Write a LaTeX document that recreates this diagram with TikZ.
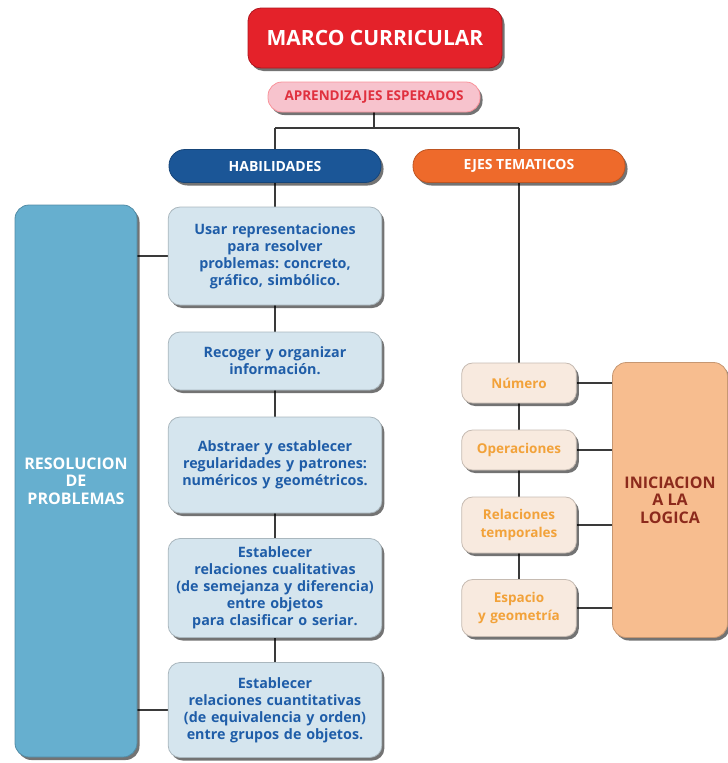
\documentclass[tikz,border=0pt]{standalone}
\usepackage{fontspec}
\setmainfont{Open Sans}
\frenchspacing
\usetikzlibrary{shadows,backgrounds}
\definecolor{marcored}{HTML}{E4222A}
\definecolor{marcoedge}{HTML}{B0141C}
\definecolor{pinkfill}{HTML}{F7C3CD}
\definecolor{pinktext}{HTML}{E0303E}
\definecolor{habblue}{HTML}{1B5697}
\definecolor{lightbluefill}{HTML}{D5E5EE}
\definecolor{bluetext}{HTML}{1F5DA8}
\definecolor{resblue}{HTML}{66AFCF}
\definecolor{ejesorange}{HTML}{EE6A2B}
\definecolor{creamfill}{HTML}{F8EADF}
\definecolor{orangetext}{HTML}{F2A23A}
\definecolor{inifill}{HTML}{F7BD8F}
\definecolor{initext}{HTML}{8C2A1C}
\definecolor{linegray}{HTML}{3A3A3A}
\tikzset{
  boxbase/.style={rectangle, draw, line width=0.8pt, align=center, font=\bfseries,
    drop shadow={shadow xshift=2.5pt, shadow yshift=-3pt, opacity=0.55, fill=black}},
  marcobox/.style={boxbase, fill=marcored, draw=marcoedge, text=white, rounded corners=13pt,
    font=\bfseries\fontsize{21}{24}\selectfont},
  aprenbox/.style={boxbase, fill=pinkfill, draw=pinkfill!75!red, text=pinktext, rounded corners=14pt,
    font=\bfseries\fontsize{13.5}{15}\selectfont},
  headbox/.style={boxbase, text=white, rounded corners=16pt,
    font=\bfseries\fontsize{14}{16}\selectfont},
  skillbox/.style={boxbase, fill=lightbluefill, draw=lightbluefill!80!black, text=bluetext,
    rounded corners=12pt, minimum width=209pt, text width=207pt,
    font=\bfseries\fontsize{14.3}{17}\selectfont},
  themebox/.style={boxbase, fill=creamfill, draw=creamfill!80!black, text=orangetext,
    rounded corners=11pt, minimum width=110pt, text width=108pt,
    font=\bfseries\fontsize{13.5}{18}\selectfont},
  bigbox/.style={boxbase, rounded corners=14pt},
  conn/.style={draw=linegray, line width=1.6pt}
}
\begin{document}
\begin{tikzpicture}[x=1pt,y=-1pt]
\useasboundingbox (0,0) rectangle (728,763);
% top
\node[marcobox, minimum width=254pt, minimum height=60pt] (marco) at (375,38) {MARCO CURRICULAR};
\node[aprenbox, minimum width=212pt, minimum height=30pt] (apren) at (374,97) {APRENDIZAJES ESPERADOS};
\node[headbox, fill=habblue, draw=habblue!80!black, minimum width=212pt, minimum height=33pt] (hab) at (275,166) {HABILIDADES};
\node[headbox, fill=ejesorange, draw=ejesorange!80!black, minimum width=212pt, minimum height=33pt] (ejes) at (519,166) {EJES TEMATICOS};
% skills
\node[skillbox, minimum height=98pt] (b1) at (275,256) {Usar representaciones\\para resolver\\problemas: concreto,\\gráfico, simbólico.};
\node[skillbox, minimum height=58pt] (b2) at (275,361) {Recoger y organizar\\información.};
\node[skillbox, minimum height=96pt] (b3) at (275,465) {Abstraer y establecer\\regularidades y patrones:\\numéricos y geométricos.};
\node[skillbox, minimum height=99pt] (b4) at (275,588) {Establecer\\relaciones cualitativas\\(de semejanza y diferencia)\\entre objetos\\para clasificar o seriar.};
\node[skillbox, minimum height=95pt] (b5) at (275,710) {Establecer\\relaciones cuantitativas\\(de equivalencia y orden)\\entre grupos de objetos.};
% left big box
\node[bigbox, fill=resblue, draw=resblue!80!black, text=white, minimum width=122pt, minimum height=552pt,
  font=\bfseries\fontsize{16}{17.5}\selectfont] (res) at (76,481) {RESOLUCION\\DE\\PROBLEMAS};
% themes
\node[themebox, minimum height=40pt] (num) at (519,383) {Número};
\node[themebox, minimum height=40pt] (op) at (519,450) {Operaciones};
\node[themebox, minimum height=56pt] (rel) at (519,525) {Relaciones\\temporales};
\node[themebox, minimum height=57pt] (esp) at (519,608) {Espacio\\y geometría};
% right big box
\node[bigbox, fill=inifill, draw=inifill!80!black, text=initext, minimum width=115pt, minimum height=275pt,
  font=\bfseries\fontsize{16}{17.5}\selectfont] (ini) at (670,500) {INICIACION\\A LA\\LOGICA};
% connectors
\begin{scope}[on background layer]
\coordinate (jc) at (374,128);
\coordinate (jl) at (275,128);
\coordinate (jr) at (519,128);
\draw[conn] (apren) -- (jc);
\draw[conn] (jl) -- (jr);
\draw[conn] (jl) -- (hab);
\draw[conn] (jr) -- (ejes);
\draw[conn] (hab) -- (b1);
\draw[conn] (b1) -- (b2);
\draw[conn] (b2) -- (b3);
\draw[conn] (b3) -- (b4);
\draw[conn] (b4) -- (b5);
\draw[conn] (res.east |- b1) -- (b1.west);
\draw[conn] (res.east |- b5) -- (b5.west);
\draw[conn] (ejes) -- (num);
\draw[conn] (num) -- (op);
\draw[conn] (op) -- (rel);
\draw[conn] (rel) -- (esp);
\draw[conn] (num.east) -- (num.east -| ini.west);
\draw[conn] (op.east) -- (op.east -| ini.west);
\draw[conn] (rel.east) -- (rel.east -| ini.west);
\draw[conn] (esp.east) -- (esp.east -| ini.west);
\end{scope}
\end{tikzpicture}
\end{document}
